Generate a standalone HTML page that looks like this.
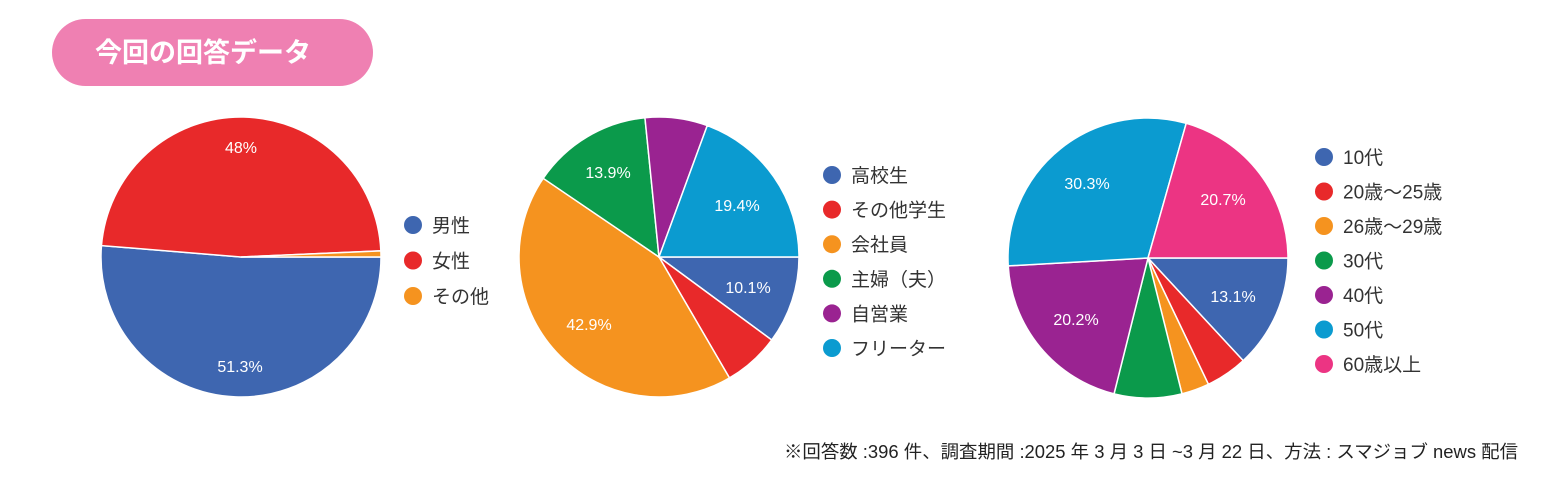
<!DOCTYPE html>
<html><head><meta charset="utf-8"><style>
body{margin:0;background:#fff;width:1564px;height:493px;overflow:hidden}
svg{display:block}
text{font-family:"Liberation Sans","Noto Sans CJK JP",sans-serif}
</style></head><body>
<svg id="s" width="1564" height="493" xmlns="http://www.w3.org/2000/svg">
<rect x="52" y="19" width="321" height="67" rx="33.5" fill="#ef80b2"/>
<text x="95" y="62" font-size="27" font-weight="bold" fill="#fff" font-family="'Noto Sans CJK JP',sans-serif">今回の回答データ</text>
<text x="1518" y="458" font-size="18" fill="#222" text-anchor="end" textLength="734" lengthAdjust="spacingAndGlyphs" font-family="'Noto Sans CJK JP',sans-serif">※回答数 :396 件、調査期間 :2025 年 3 月 3 日 ~3 月 22 日、方法 : スマジョブ news 配信</text>
</svg>
<script>
var s=document.getElementById('s'),NS='http://www.w3.org/2000/svg';
var C={b:'#3e66b0',r:'#e8292a',o:'#f5931f',g:'#0b9a4b',p:'#9a2391',c:'#0b9bd0',k:'#ec3483'};
function el(t,a,txt){var e=document.createElementNS(NS,t);for(var k in a)e.setAttribute(k,a[k]);if(txt)e.textContent=txt;s.appendChild(e);return e;}
function pie(cx,cy,r,data){var a=0;data.forEach(function(d){var a2=a+d[0]/100*2*Math.PI;
var x1=cx+r*Math.cos(a),y1=cy+r*Math.sin(a),x2=cx+r*Math.cos(a2),y2=cy+r*Math.sin(a2);
el('path',{d:'M'+cx+','+cy+'L'+x1+','+y1+'A'+r+','+r+' 0 '+((a2-a)>Math.PI?1:0)+' 1 '+x2+','+y2+'Z',fill:C[d[1]],stroke:'#fff','stroke-width':1.5});a=a2;});}
function lbl(x,y,t){el('text',{x:x,y:y,'font-size':16,fill:'#fff','text-anchor':'middle'},t);}
function leg(x,y0,dy,items){items.forEach(function(it,i){var y=y0+i*dy;el('circle',{cx:x,cy:y,r:9,fill:C[it[0]]});
el('text',{x:x+19,y:y+7,'font-size':19,fill:'#333'},it[1]);});}
pie(241,257,140,[[51.3,'b'],[48,'r'],[0.7,'o']]);
lbl(241,153,'48%');lbl(240,372,'51.3%');
leg(413,225,35.5,[['b','男性'],['r','女性'],['o','その他']]);
pie(659,257,140,[[10.1,'b'],[6.5,'r'],[42.9,'o'],[13.9,'g'],[7.2,'p'],[19.4,'c']]);
lbl(748,293,'10.1%');lbl(589,330,'42.9%');lbl(608,178,'13.9%');lbl(737,211,'19.4%');
leg(832,175,34.6,[['b','高校生'],['r','その他学生'],['o','会社員'],['g','主婦（夫）'],['p','自営業'],['c','フリーター']]);
pie(1148,258,140,[[13.1,'b'],[4.8,'r'],[3.2,'o'],[7.8,'g'],[20.2,'p'],[30.3,'c'],[20.6,'k']]);
lbl(1233,302,'13.1%');lbl(1076,325,'20.2%');lbl(1087,189,'30.3%');lbl(1223,205,'20.7%');
leg(1324,157,34.5,[['b','10代'],['r','20歳～25歳'],['o','26歳～29歳'],['g','30代'],['p','40代'],['c','50代'],['k','60歳以上']]);
</script>
</body></html>
